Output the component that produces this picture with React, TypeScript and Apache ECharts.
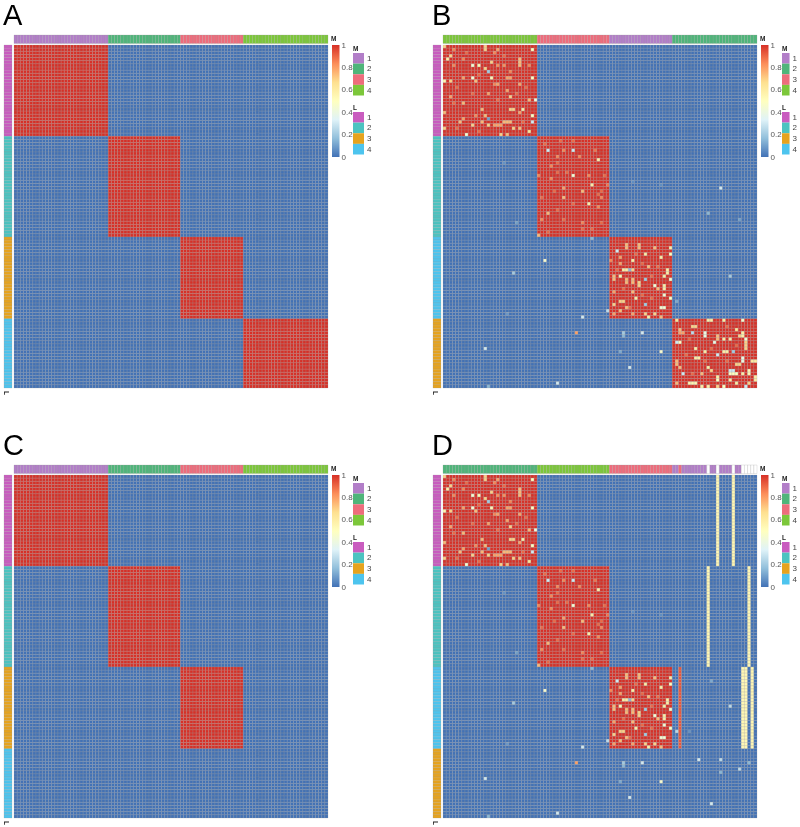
import React, { useEffect, useRef } from "react";
import * as echarts from "echarts";

const colCount = 100;
const rowCount = 109;
const colSizes = [30, 23, 20, 27];
const rowSizes = [29, 32, 26, 22];
const cmTicks = ["0", "0.2", "0.4", "0.6", "0.8", "1"];
const legendLevels = ["1", "2", "3", "4"];
const colorM = ["#B27EC8", "#4FB57A", "#EE6C7C", "#7CC73A"];
const colorL = ["#C95CBF", "#4CC3C0", "#E6A31E", "#4DC4EE"];
const ramp = ["#4272B6", "#91BFDB", "#E0F3F8", "#FFFFBF", "#FEE090", "#FC8D59", "#D73027"];

// Order of the M / L groups along the annotation bars, per panel
const topOrderA = [0, 1, 2, 3];
const leftOrderA = [0, 1, 2, 3];
const topOrderB = [3, 2, 0, 1];
const leftOrderB = [0, 1, 3, 2];
const topOrderD = [1, 3, 2, 0];
const leftOrderD = [0, 1, 3, 2];

// [col, row, value]
const speckleBlock1 = [
  [0,0,.7],[13,0,.7],[13,1,.7],[3,1,.85],[17,1,.8],[28,1,.5],[16,2,.85],[2,3,.7],[1,4,.6],[6,4,.85],[15,5,.7],[24,4,.75],[24,5,.75],[24,6,.75],[9,6,.45],[11,6,.55],[3,6,.85],[17,6,.83],[19,6,.83],[13,7,.7],[14,8,.2],[27,6,.85],[21,8,.85],[0,11,.55],[2,11,.7],[6,10,.8],[9,10,.45],[10,11,.75],[15,10,.55],[20,10,.8],[21,10,.8],[28,10,.5],[17,12,.8],[16,12,.85],[24,12,.8],[20,14,.8],[14,15,.8],[2,16,.8],[21,16,.7],[27,17,.75],[29,17,.42],[6,18,.75],[12,20,.75],[21,20,.7],[22,20,.7],[25,20,.6],[24,21,.8],[0,21,.75],[10,22,.85],[13,22,.75],[28,22,.5],[6,23,.8],[14,23,.1],[5,24,.75],[12,24,.75],[19,24,.75],[20,24,.75],[21,24,.75],[28,24,.3],[9,25,.7],[14,25,.7],[16,25,.8],[17,25,.8],[18,25,.8],[0,26,.7],[22,26,.7],[24,26,.75],[27,27,.65],[7,28,.45],[18,28,.7],[20,28,.75],
  [7,2,.9],[11,9,.9],[4,13,.9],[19,3,.9],[26,13,.9],[9,15,.9],[3,18,.9],[23,15,.9],[17,17,.9],[11,27,.9],[4,26,.9],[25,24,.9],
];
const speckleBlock2 = [
  [33,33,.3],[41,33,.3],[49,36,.6],[41,41,.45],[47,44,.6],[44,46,.75],[38,45,.8],[38,48,.75],[46,50,.6],[49,51,.85],[33,53,.75],[30,60,.75],[30,41,.85],[43,35,.85],[34,38,.85],[36,35,.85],[38,33,.85],[46,41,.85],[34,42,.85],[44,56,.85],[50,48,.85],[31,55,.85],[48,33,.88],[52,44,.88],
  [37,30,.9],[41,30,.9],[36,37,.9],[36,40,.9],[39,40,.9],[32,31,.9],[50,46,.9],[51,41,.9],[35,46,.9],[41,50,.9],[49,47,.9],[44,58,.9],[36,52,.9],[38,55,.9],[31,48,.9],[47,58,.9],[50,56,.9],[33,59,.9],
];
const speckleBlock3 = [
  [55,65,.3],[72,64,.6],[72,66,.5],[64,66,.6],[58,63,.75],[58,64,.75],[62,63,.75],[62,64,.75],[56,67,.8],[67,64,.75],[60,68,.6],[69,67,.6],[53,68,.85],[56,69,.8],[56,73,.55],[57,71,.6],[58,71,.6],[59,71,.15],[60,71,.7],[65,70,.75],[71,71,.6],[71,72,.6],[70,73,.6],[72,74,.45],[54,73,.75],[54,74,.75],[58,74,.75],[58,75,.75],[60,74,.75],[60,75,.75],[64,74,.2],[62,75,.7],[62,76,.7],[67,76,.45],[70,76,.6],[70,77,.6],[68,77,.75],[54,78,.8],[60,78,.75],[70,79,.45],[72,80,.5],[61,80,.6],[56,81,.7],[57,81,.7],[64,82,.2],[54,82,.7],[69,83,.45],[70,83,.45],[58,83,.75],[56,84,.75],[64,85,.7],[65,86,.6],[67,85,.7],[69,86,.75],[54,85,.8],[60,85,.8],
  [63,69,.9],[55,71,.9],[66,73,.9],[61,66,.9],[68,70,.9],[57,77,.9],[66,80,.9],[63,79,.9],[59,83,.9],
];
const speckleBlock4 = [
  [74,87,.65],[84,87,.6],[85,87,.6],[79,89,.7],[80,89,.7],[89,87,.6],[95,87,.45],[75,90,.75],[75,91,.8],[76,91,.8],[79,91,.25],[83,91,.4],[83,92,.4],[93,90,.65],[95,91,.6],[95,92,.6],[94,92,.7],[87,92,.75],[87,93,.75],[89,93,.6],[91,93,.6],[96,93,.45],[74,94,.3],[75,94,.5],[86,94,.4],[96,94,.7],[96,95,.7],[96,96,.7],[80,96,.6],[83,97,.6],[89,97,.6],[90,97,.6],[92,97,.2],[74,100,.75],[74,101,.75],[80,99,.6],[81,99,.6],[87,98,.3],[95,99,.4],[95,100,.4],[93,101,.7],[94,101,.7],[98,100,.6],[99,100,.6],[84,102,.6],[85,103,.7],[76,104,.3],[75,102,.75],[82,104,.75],[91,103,.3],[92,103,.3],[91,104,.5],[92,104,.5],[93,104,.5],[95,104,.6],[97,103,.55],[97,104,.55],[87,105,.6],[87,106,.5],[74,107,.75],[78,107,.55],[79,107,.55],[80,107,.55],[99,105,.6],[99,106,.6],[97,107,.7],[91,106,.6],[87,108,.7],[89,108,.5],[93,107,.6],[82,108,.6],[84,108,.6],[96,108,.3],
  [78,93,.9],[85,96,.9],[90,100,.9],[77,98,.9],[83,100,.9],[90,89,.9],[79,104,.9],[93,95,.9],
];
// faint cells off the diagonal shared by B and D (columns left of block 4)
const speckleOffShared = [
  [69,44,.06],[60,43,.06],[22,72,.2],[23,56,.1],[19,37,.07],[20,85,.08],[44,86,.3],[42,91,.8],[57,91,.2],[57,92,.15],[63,91,.3],[13,96,.3],[56,97,.12],[69,97,.45],[59,102,.3],[36,107,.3],[14,108,.15],[52,84,.25],[32,68,.45],[47,61,.15],
];
const speckleOffB = [[88,45,.3],[84,53,.15],[94,55,.1],[91,73,.2],[74,81,.12]];
const speckleOffD = [[81,90,.3],[88,90,.25],[94,93,.25],[88,94,.15],[97,91,.15],[85,104,.3],[85,65,.12],[91,73,.25],[78,81,.07],[74,81,.25]];

// Stripes of panel D: [col, first row, last row, value]
const stripesD = [
  [87,0,28,.54],[92,0,28,.54],[84,29,60,.54],[97,29,60,.54],[95,61,86,.54],[96,61,86,.54],[98,61,86,.54],[75,61,86,.93],
];
// Overrides of the top bar of panel D: columns with another group, or no group (-1)
const topOverrideD = [[75,2],[84,-1],[87,-1],[92,-1],[95,-1],[96,-1],[97,-1],[98,-1],[99,-1]];

const GRID_LINE = "rgba(150,150,150,0.5)";
const LINE_W = 0.45;
const FONT = "'Liberation Sans', Arial, sans-serif";

function starts(sizes: number[]) {
  const out: number[] = [];
  let s = 0;
  for (const n of sizes) { out.push(s); s += n; }
  return out;
}

function matrix(redBlocks: number, speckles: number[][], stripes: number[][] = []) {
  const m: number[][] = [];
  for (let r = 0; r < rowCount; r++) m.push(new Array(colCount).fill(0));
  const cs = starts(colSizes);
  const rs = starts(rowSizes);
  for (let b = 0; b < redBlocks; b++) {
    for (let r = rs[b]; r < rs[b] + rowSizes[b]; r++) {
      for (let c = cs[b]; c < cs[b] + colSizes[b]; c++) m[r][c] = 1;
    }
  }
  for (const [c, from, to, v] of stripes) for (let r = from; r <= to; r++) m[r][c] = v;
  for (const [c, r, v] of speckles) m[r][c] = v;
  const data: number[][] = [];
  for (let r = 0; r < rowCount; r++) for (let c = 0; c < colCount; c++) data.push([c, r, m[r][c]]);
  return data;
}

function bandColors(sizes: number[], order: number[]) {
  const out: number[] = [];
  sizes.forEach((n, i) => { for (let k = 0; k < n; k++) out.push(order[i]); });
  return out;
}

function indexLabels(n: number) {
  const a: string[] = [];
  for (let i = 0; i < n; i++) a.push(String(i));
  return a;
}

function cellItem(_p: any, api: any) {
  const p = api.coord([api.value(0), api.value(1)]);
  const s = api.size([1, 1]);
  return {
    type: "rect",
    shape: { x: p[0] - s[0] / 2, y: p[1] - s[1] / 2, width: s[0], height: s[1] },
    style: { fill: api.visual("color"), stroke: GRID_LINE, lineWidth: LINE_W },
  };
}

function annotItem(palette: string[]) {
  return (_p: any, api: any) => {
    const p = api.coord([api.value(0), api.value(1)]);
    const s = api.size([1, 1]);
    const idx = api.value(2);
    return {
      type: "rect",
      shape: { x: p[0] - s[0] / 2, y: p[1] - s[1] / 2, width: s[0], height: s[1] },
      style: { fill: idx < 0 ? "#FFFFFF" : palette[idx], stroke: GRID_LINE, lineWidth: LINE_W },
    };
  };
}

function buildOption() {
  const grid: any[] = [];
  const xAxis: any[] = [];
  const yAxis: any[] = [];
  const series: any[] = [];
  const graphic: any[] = [];
  const heatSeries: number[] = [];
  const hidden = { show: false };

  const addGrid = (box: any, x: any, y: any) => {
    const i = grid.length;
    grid.push({ ...box, containLabel: false });
    xAxis.push({ gridIndex: i, ...x });
    yAxis.push({ gridIndex: i, ...y });
    return i;
  };
  const catHidden = (n: number, inverse = false) => ({
    type: "category", data: indexLabels(n), show: false, inverse, boundaryGap: true,
  });

  const txt = (x: number, y: number, text: string, size: number, weight: string, rotation = 0, color = "#222", lineHeight?: number) => {
    graphic.push({
      type: "text", x, y, rotation, silent: true,
      style: { text, fontSize: size, fontWeight: weight, fontFamily: FONT, fill: color, textAlign: "left", textVerticalAlign: "middle", lineHeight: lineHeight ?? size },
    });
  };

  const panel = (letter: string, dx: number, dy: number, cm: number, dataset: number[][], top: number[], left: number[]) => {
    const heatLeft = 14 + dx;
    const heatTop = 45 + dy;
    const W = 314;
    const H = 343;

    const g = addGrid({ left: heatLeft, top: heatTop, width: W, height: H }, catHidden(colCount), catHidden(rowCount, true));
    heatSeries.push(series.length);
    series.push({
      type: "custom", xAxisIndex: g, yAxisIndex: g, coordinateSystem: "cartesian2d",
      dimensions: ["col", "row", "value"], encode: { x: 0, y: 1 },
      renderItem: cellItem, data: dataset, silent: true, progressive: 0, animation: false, clip: false,
    });

    const gt = addGrid({ left: heatLeft, top: 35 + dy, width: W, height: 8.5 }, catHidden(colCount), catHidden(1, true));
    series.push({
      type: "custom", xAxisIndex: gt, yAxisIndex: gt, coordinateSystem: "cartesian2d",
      dimensions: ["col", "row", "group"], encode: { x: 0, y: 1 },
      renderItem: annotItem(colorM), data: top.map((v, i) => [i, 0, v]), silent: true, progressive: 0, clip: false,
    });

    const gl = addGrid({ left: 4 + dx, top: heatTop, width: 8, height: H }, catHidden(1), catHidden(rowCount, true));
    series.push({
      type: "custom", xAxisIndex: gl, yAxisIndex: gl, coordinateSystem: "cartesian2d",
      dimensions: ["col", "row", "group"], encode: { x: 0, y: 1 },
      renderItem: annotItem(colorL), data: left.map((v, i) => [0, i, v]), silent: true, progressive: 0, clip: false,
    });

    // colour bar
    const gc = addGrid(
      { left: cm + 1 + dx, top: heatTop, width: 7.5, height: 112 },
      { type: "category", data: [""], show: false },
      {
        type: "value", min: 0, max: 1, interval: 0.2, position: "right",
        axisLine: hidden, axisTick: hidden, splitLine: hidden,
        axisLabel: { show: true, margin: 2, fontSize: 8, color: "#555", fontFamily: FONT,
          formatter: (v: number) => cmTicks[Math.round(v * 5)] },
      },
    );
    series.push({
      type: "bar", xAxisIndex: gc, yAxisIndex: gc, barWidth: "100%", silent: true,
      data: [1],
      itemStyle: {
        color: new echarts.graphic.LinearGradient(0, 1, 0, 0, ramp.map((c, i) => ({ offset: i / (ramp.length - 1), color: c }))),
      },
    });

    // legends
    const legend = (top0: number, colors: string[]) => {
      const gg = addGrid(
        { left: cm + 22 + dx, top: top0 + dy, width: 11, height: 42.5 },
        { type: "value", min: 0, max: 1, show: false },
        {
          type: "category", data: legendLevels, inverse: true, position: "right",
          axisLine: hidden, axisTick: hidden, splitLine: hidden,
          axisLabel: { show: true, interval: 0, margin: 3, fontSize: 8, color: "#444", fontFamily: FONT },
        },
      );
      series.push({
        type: "bar", xAxisIndex: gg, yAxisIndex: gg, barWidth: "100%", silent: true,
        data: colors.map((c) => ({ value: 1, itemStyle: { color: c } })),
      });
    };
    legend(53, colorM);
    legend(112, colorL);

    txt(3 + dx, 14.5 + dy, letter, 29, "normal", 0, "#000", 29);
    txt(cm + dx, 38.5 + dy, "M", 6.5, "bold");
    txt(cm + 22 + dx, 48 + dy, "M", 6.5, "bold");
    txt(cm + 22 + dx, 107.5 + dy, "L", 6.5, "bold");
    txt(6 + dx, 391 + dy, "L", 6.5, "bold", -Math.PI / 2);
  };

  const topD = bandColors(colSizes, topOrderD);
  for (const [c, v] of topOverrideD) topD[c] = v;

  panel("A", 0, 0, 331, matrix(4, []), bandColors(colSizes, topOrderA), bandColors(rowSizes, leftOrderA));
  panel(
    "B", 429, 0, 331,
    matrix(4, [...speckleBlock1, ...speckleBlock2, ...speckleBlock3, ...speckleBlock4, ...speckleOffShared, ...speckleOffB]),
    bandColors(colSizes, topOrderB), bandColors(rowSizes, leftOrderB),
  );
  panel("C", 0, 430, 331, matrix(3, []), bandColors(colSizes, topOrderA), bandColors(rowSizes, leftOrderA));
  panel(
    "D", 429, 430, 331,
    matrix(3, [...speckleBlock1, ...speckleBlock2, ...speckleBlock3, ...speckleOffShared, ...speckleOffD], stripesD),
    topD, bandColors(rowSizes, leftOrderD),
  );

  return {
    animation: false,
    backgroundColor: "#ffffff",
    grid, xAxis, yAxis, series,
    graphic: { elements: graphic },
    visualMap: {
      show: false, type: "continuous", min: 0, max: 1, dimension: 2,
      seriesIndex: heatSeries, inRange: { color: ramp },
    },
  };
}

export default function App() {
  const ref = useRef<HTMLDivElement>(null);
  useEffect(() => {
    const chart = echarts.init(ref.current!, undefined, { renderer: "svg" });
    chart.setOption(buildOption() as any);
    return () => chart.dispose();
  }, []);
  return <div ref={ref} style={{ position: "absolute", left: 0, top: 0, width: 800, height: 827, filter: "blur(0.4px)" }} />;
}
